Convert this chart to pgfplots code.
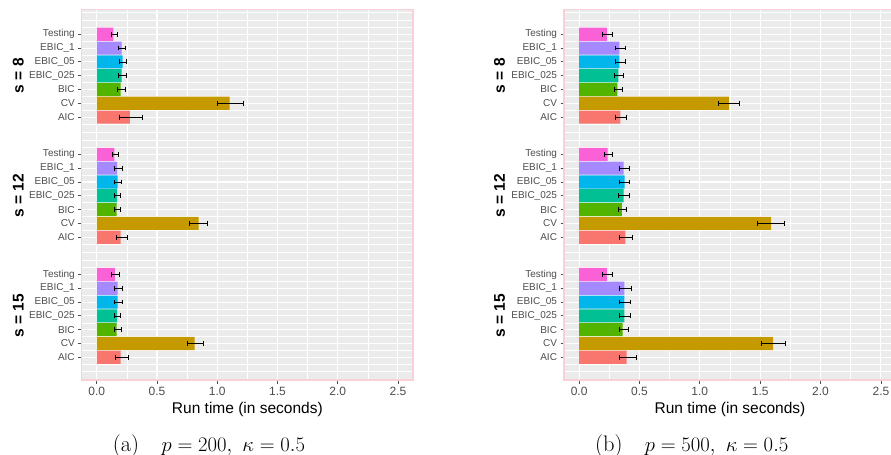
\documentclass[border=0pt]{standalone}
\usepackage{fontspec}
\usepackage{pgfplots}
\pgfplotsset{compat=1.18}
\newfontfamily\arial{Liberation Sans}
\definecolor{cAIC}{HTML}{F8766D}
\definecolor{cCV}{HTML}{C49A00}
\definecolor{cBIC}{HTML}{53B400}
\definecolor{cEA}{HTML}{00C094}
\definecolor{cEB}{HTML}{00B6EB}
\definecolor{cEC}{HTML}{A58AFF}
\definecolor{cTE}{HTML}{FB61D7}
\definecolor{panelbg}{HTML}{EBEBEB}
\definecolor{pinkb}{RGB}{250,208,216}
\definecolor{tickgray}{HTML}{4D4D4D}

\tikzset{facet/.style={rotate=90, font=\arial\bfseries\fontsize{15.5bp}{18bp}\selectfont, text=black}}

\pgfplotsset{
  panel/.style={
    scale only axis, anchor=south west,
    height=370.7bp,
    xmin=-0.125, xmax=2.625, ymin=-0.645, ymax=26.21,
    xtick={0,0.5,1,1.5,2,2.5},
    minor xtick={0.25,0.75,1.25,1.75,2.25},
    xticklabels={0.0,0.5,1.0,1.5,2.0,2.5},
    ytick={1,2,3,4,5,6,7,9.7,10.7,11.7,12.7,13.7,14.7,15.7,18.4,19.4,20.4,21.4,22.4,23.4,24.4},
    yticklabels={AIC,CV,BIC,EBIC\_025,EBIC\_05,EBIC\_1,Testing,AIC,CV,BIC,EBIC\_025,EBIC\_05,EBIC\_1,Testing,AIC,CV,BIC,EBIC\_025,EBIC\_05,EBIC\_1,Testing},
    minor ytick={0,0.5,1.5,2.5,3.5,4.5,5.5,6.5,7.5,8.05,8.6,9.2,10.2,11.2,12.2,13.2,14.2,15.2,16.2,16.75,17.3,17.9,18.9,19.9,20.9,21.9,22.9,23.9,24.9,25.45,26.0},
    grid=both,
    major grid style={white, line width=1.1bp},
    minor grid style={white, line width=0.55bp},
    axis background/.style={fill=panelbg},
    axis line style={pinkb, line width=1.2bp},
    tick align=outside, xtick pos=bottom, ytick pos=left,
    major tick length=3.5bp, minor tick length=0pt,
    tick style={tickgray, line width=0.8bp},
    /pgf/number format/assume math mode=true,
    xticklabel style={font=\arial\fontsize{12bp}{14bp}\selectfont, text=tickgray},
    yticklabel style={font=\arial\fontsize{10bp}{12bp}\selectfont, text=tickgray},
    xlabel={Run time (in seconds)},
    xlabel style={font=\arial\fontsize{15.5bp}{18bp}\selectfont, text=black},
    clip=false,
    xbar, bar width=0.95, bar shift=0pt,
    every axis plot/.append style={draw=none,
      error bars/x dir=both, error bars/x explicit,
      error bars/error mark=|,
      error bars/error bar style={draw=black, line width=0.75bp},
      error bars/error mark options={solid, draw=black, mark size=2.4bp, line width=0.85bp}},
  },
  /pgfplots/table/errtab/.style={x=x, y=y, x error plus expr=\thisrow{hi}-\thisrow{x}, x error minus expr=\thisrow{x}-\thisrow{lo}},
}

\begin{document}
\begin{tikzpicture}
\useasboundingbox (0,0) rectangle (891bp,455bp);
\clip (0,0) rectangle (891bp,455bp);

% ---------------- panel (a) ----------------
\begin{axis}[panel, at={(81.7bp,75bp)}, width=331.3bp]
\addplot[fill=cAIC] table[errtab] {
y x lo hi
1 0.198 0.157 0.265
9.7 0.198 0.162 0.253
18.4 0.275 0.187 0.380
};
\addplot[fill=cCV] table[errtab] {
y x lo hi
2 0.813 0.753 0.888
10.7 0.846 0.769 0.918
19.4 1.103 0.998 1.218
};
\addplot[fill=cBIC] table[errtab] {
y x lo hi
3 0.165 0.143 0.207
11.7 0.165 0.149 0.193
20.4 0.198 0.171 0.237
};
\addplot[fill=cEA] table[errtab] {
y x lo hi
4 0.170 0.143 0.198
12.7 0.170 0.149 0.196
21.4 0.207 0.179 0.245
};
\addplot[fill=cEB] table[errtab] {
y x lo hi
5 0.173 0.143 0.215
13.7 0.173 0.149 0.204
22.4 0.215 0.184 0.245
};
\addplot[fill=cEC] table[errtab] {
y x lo hi
6 0.173 0.146 0.215
14.7 0.170 0.149 0.215
23.4 0.207 0.179 0.237
};
\addplot[fill=cTE] table[errtab] {
y x lo hi
7 0.151 0.121 0.184
15.7 0.146 0.127 0.179
24.4 0.137 0.119 0.171
};
\node[facet] at (axis cs:-0.651,21.4) {s = 8};
\node[facet] at (axis cs:-0.651,12.7) {s = 12};
\node[facet] at (axis cs:-0.651,4) {s = 15};
\end{axis}

% ---------------- panel (b) ----------------
\begin{axis}[panel, at={(564bp,75bp)}, width=332bp]
\addplot[fill=cAIC] table[errtab] {
y x lo hi
1 0.394 0.336 0.471
9.7 0.383 0.330 0.441
18.4 0.341 0.297 0.394
};
\addplot[fill=cCV] table[errtab] {
y x lo hi
2 1.607 1.511 1.710
10.7 1.590 1.474 1.700
19.4 1.240 1.151 1.331
};
\addplot[fill=cBIC] table[errtab] {
y x lo hi
3 0.361 0.330 0.405
11.7 0.355 0.322 0.391
20.4 0.317 0.292 0.355
};
\addplot[fill=cEA] table[errtab] {
y x lo hi
4 0.375 0.336 0.424
12.7 0.369 0.322 0.421
21.4 0.325 0.292 0.366
};
\addplot[fill=cEB] table[errtab] {
y x lo hi
5 0.375 0.336 0.424
13.7 0.377 0.330 0.421
22.4 0.333 0.297 0.383
};
\addplot[fill=cEC] table[errtab] {
y x lo hi
6 0.375 0.336 0.433
14.7 0.369 0.330 0.421
23.4 0.333 0.297 0.383
};
\addplot[fill=cTE] table[errtab] {
y x lo hi
7 0.231 0.197 0.272
15.7 0.236 0.211 0.280
24.4 0.231 0.197 0.275
};
\node[facet] at (axis cs:-0.659,21.4) {s = 8};
\node[facet] at (axis cs:-0.659,12.7) {s = 12};
\node[facet] at (axis cs:-0.659,4) {s = 15};
\end{axis}

\node[anchor=base, font=\fontsize{22.5bp}{27bp}\selectfont] at (209bp,3.3bp) {(a)\quad$p=200,\ \kappa=0.5$};
\node[anchor=base, font=\fontsize{22.5bp}{27bp}\selectfont] at (691.7bp,3.3bp) {(b)\quad$p=500,\ \kappa=0.5$};
\end{tikzpicture}
\end{document}
